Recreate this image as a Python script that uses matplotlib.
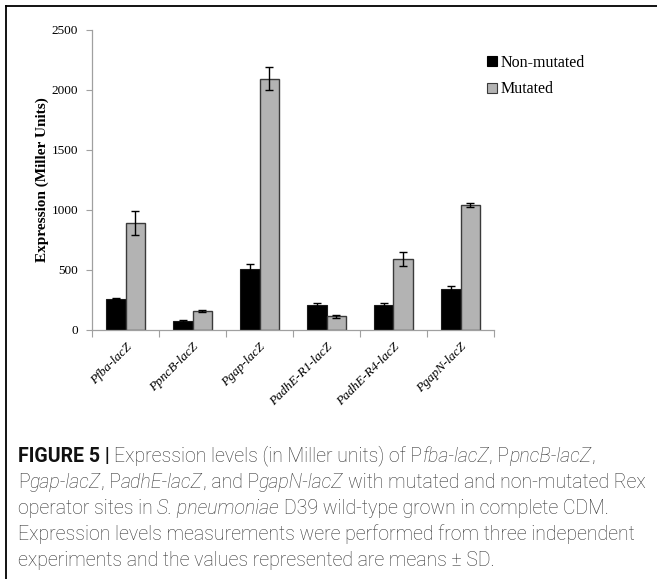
import matplotlib
matplotlib.use("Agg")
import matplotlib.pyplot as plt
from matplotlib.patches import Patch
from matplotlib.lines import Line2D
import numpy as np

categories = ['Pfba-lacZ', 'PpncB-lacZ', 'Pgap-lacZ', 'PadhE-R1-lacZ', 'PadhE-R4-lacZ', 'PgapN-lacZ']
non_mutated = [262, 72, 508, 208, 208, 342]
non_mutated_err = [4, 8, 38, 18, 18, 28]
mutated = [895, 158, 2093, 114, 592, 1040]
mutated_err = [100, 6, 97, 15, 55, 15]
series_labels = ['Non-mutated', 'Mutated']
y_ticks = [0, 500, 1000, 1500, 2000, 2500]

W, H = 657, 579
fig = plt.figure(figsize=(W / 100, H / 100), dpi=100)

def fx(px):
    return px / W

def fy(py):
    return 1 - py / H

serif = 'Liberation Serif'
ax = fig.add_axes([fx(92), fy(330), fx(494) - fx(92), fy(30) - fy(330)])

x = np.arange(len(categories))
bw = 0.29
ax.bar(x - bw / 2, non_mutated, bw, color='black', edgecolor='#1a1a1a', linewidth=0.8,
       yerr=non_mutated_err, error_kw=dict(ecolor='black', elinewidth=1, capsize=3, capthick=1),
       zorder=2)
ax.bar(x + bw / 2, mutated, bw, color='#b3b3b3', edgecolor='#3a3a3a', linewidth=1.0,
       yerr=mutated_err, error_kw=dict(ecolor='black', elinewidth=1, capsize=3, capthick=1),
       zorder=2)

ax.set_xlim(-0.5, len(categories) - 0.5)
ax.set_ylim(0, 2500)
ax.set_yticks(y_ticks)
ax.set_yticklabels([str(v) for v in y_ticks], fontfamily=serif, fontsize=9.5)
ax.set_xticks(x)
ax.set_xticklabels(categories, fontfamily=serif, fontstyle='italic', fontsize=9.5,
                   rotation=45, ha='right', rotation_mode='anchor')
ax.set_xticks(np.arange(-0.5, len(categories)), minor=True)
ax.tick_params(axis='x', which='major', length=0, pad=8)
ax.tick_params(axis='x', which='minor', length=5, color='#a0a0a0', width=0.8)
ax.tick_params(axis='y', length=4, color='#a0a0a0', width=0.8, pad=6)

for s in ['top', 'right']:
    ax.spines[s].set_visible(False)
for s in ['left', 'bottom']:
    ax.spines[s].set_color('#a0a0a0')
    ax.spines[s].set_linewidth(0.9)

fig.text(fx(42), fy(180), 'Expression (Miller Units)', rotation=90, ha='center', va='center',
         fontfamily=serif, fontweight='bold', fontsize=11)

handles = [Patch(facecolor='black', edgecolor='black', linewidth=0.8),
           Patch(facecolor='#b3b3b3', edgecolor='#3a3a3a', linewidth=0.8)]
ax.legend(handles, series_labels, loc='upper left', bbox_to_anchor=(fx(487), fy(55)),
          bbox_transform=fig.transFigure, frameon=False, prop={'family': serif, 'size': 11.5},
          handlelength=0.6, handleheight=0.6, handletextpad=0.25, labelspacing=0.65,
          borderpad=0, borderaxespad=0)

# frame lines (cropped figure border)
fig.add_artist(Line2D([fx(6), 1], [fy(6), fy(6)], color='black', lw=1.3, transform=fig.transFigure))
fig.add_artist(Line2D([fx(6), fx(6)], [fy(6), 0], color='black', lw=1.3, transform=fig.transFigure))

# caption with mixed styles
cap_font = 'Roboto'
lines = [
    [('FIGURE 5 |', 'b'), (' Expression levels (in Miller units) of P', 'n'), ('fba-lacZ', 'i'),
     (', P', 'n'), ('pncB-lacZ', 'i'), (',', 'n')],
    [('P', 'n'), ('gap-lacZ', 'i'), (', P', 'n'), ('adhE-lacZ', 'i'), (', and P', 'n'),
     ('gapN-lacZ', 'i'), (' with mutated and non-mutated Rex', 'n')],
    [('operator sites in ', 'n'), ('S. pneumoniae', 'i'), (' D39 wild-type grown in complete CDM.', 'n')],
    [('Expression levels measurements were performed from three independent', 'n')],
    [('experiments and the values represented are means \u00b1 SD.', 'n')],
]
line_y = [456, 482, 508, 534, 560]
x_start = 18.0
x_end_line2 = 645.0

fig.canvas.draw()
renderer = fig.canvas.get_renderer()

def props(style):
    if style == 'b':
        return dict(fontweight='bold', fontstyle='normal', color='#111111')
    if style == 'i':
        return dict(fontweight='light', fontstyle='italic', color='#333333')
    return dict(fontweight='light', fontstyle='normal', color='#333333')

def width_px(s, style, size):
    t = fig.text(0, 0, s, fontfamily=cap_font, fontsize=size, **props(style))
    w = t.get_window_extent(renderer).width
    t.remove()
    return w

def line_width(frags, size):
    sp = width_px('a a', 'n', size) - width_px('aa', 'n', size)
    total = 0.0
    for s, st in frags:
        lead = len(s) - len(s.lstrip(' '))
        trail = len(s) - len(s.rstrip(' '))
        total += (lead + trail) * sp + width_px(s.strip(' '), st, size)
    return total

base = 11.0
cap_size = base * (x_end_line2 - x_start) / line_width(lines[1], base)
space_w = width_px('a a', 'n', cap_size) - width_px('aa', 'n', cap_size)

for frags, ly in zip(lines, line_y):
    cx = x_start
    for s, st in frags:
        lead = len(s) - len(s.lstrip(' '))
        trail = len(s) - len(s.rstrip(' '))
        core = s.strip(' ')
        cx += lead * space_w
        t = fig.text(fx(cx), fy(ly), core, fontfamily=cap_font, fontsize=cap_size,
                     va='center', ha='left', **props(st))
        cx += t.get_window_extent(renderer).width
        cx += trail * space_w

fig.savefig('out.png', dpi=100)
